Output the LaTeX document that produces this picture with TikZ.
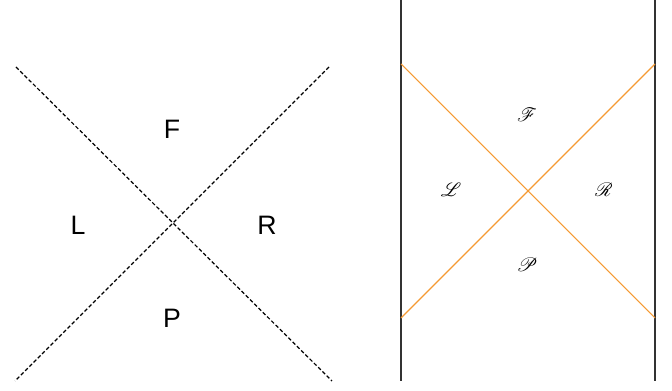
\documentclass[tikz,border=0pt]{standalone}
\usepackage{fontspec}
\setmainfont{Liberation Sans}
\usepackage{mathrsfs}
\usetikzlibrary{calc}
\definecolor{hzorange}{HTML}{F59A33}
\definecolor{hzwall}{HTML}{333333}

\begin{document}
\begin{tikzpicture}[x=0.75pt,y=-0.75pt,
  region/.style={font=\fontsize{20}{23}\selectfont, inner sep=0pt},
  sregion/.style={font=\fontsize{14}{16}\selectfont, inner sep=0pt},
  horizon/.style={black, line width=0.9pt, dash pattern=on 2.8pt off 1.7pt},
  patch/.style={hzorange, line width=0.8pt}]

\useasboundingbox (0,0) rectangle (672,391);

% flat picture
\coordinate (a1) at (16,67);
\coordinate (a2) at (332,381);
\coordinate (b1) at (329,67);
\coordinate (b2) at (15,381);
\draw[horizon] (a1) -- (a2);
\draw[horizon] (b1) -- (b2);

\node[region] (F) at (172,129) {F};
\node[region] (L) at (78,225) {L};
\node[region] (R) at (267,225) {R};
\node[region] (P) at (172,318) {P};

% strip picture
\coordinate (wl1) at (401,0);
\coordinate (wl2) at (401,381);
\coordinate (wr1) at (655,0);
\coordinate (wr2) at (655,381);
\draw[hzwall, line width=1.1pt] (wl1) -- (wl2);
\draw[hzwall, line width=1.1pt] (wr1) -- (wr2);

\coordinate (c1) at (401,64);
\coordinate (c2) at (655,318);
\coordinate (d1) at (655,64);
\coordinate (d2) at (401,318);
\draw[patch] (c1) -- (c2);
\draw[patch] (d1) -- (d2);

\node[sregion] (sF) at (527,115) {$\mathscr{F}$};
\node[sregion] (sL) at (451,190) {$\mathscr{L}$};
\node[sregion] (sR) at (604,190) {$\mathscr{R}$};
\node[sregion] (sP) at (527,265) {$\mathscr{P}$};
\end{tikzpicture}
\end{document}
